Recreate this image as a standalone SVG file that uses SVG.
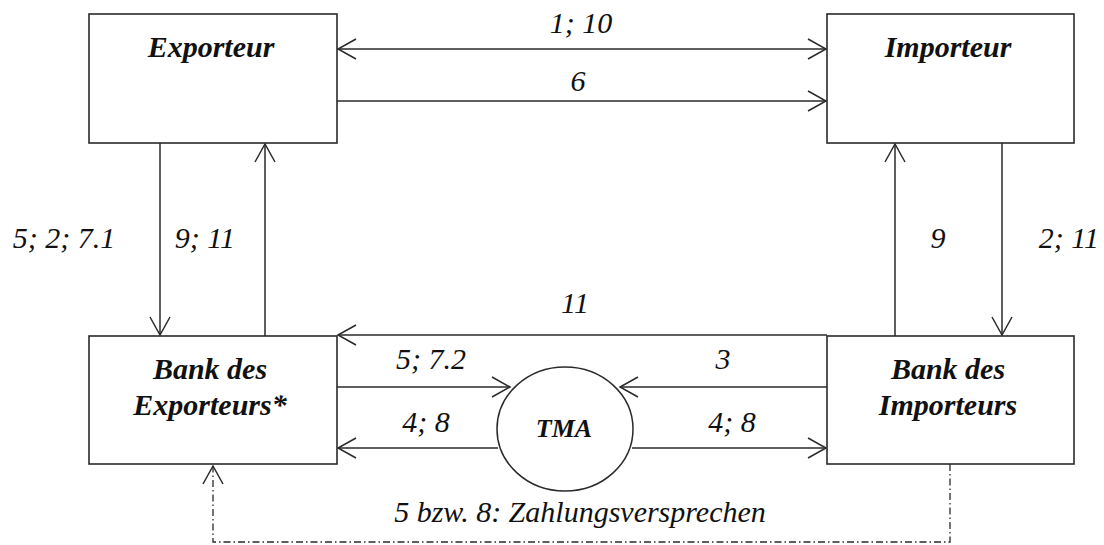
<svg xmlns="http://www.w3.org/2000/svg" width="1104" height="545" viewBox="0 0 1104 545">
  <style>
    .box { fill: #fff; stroke: #2a2a2a; stroke-width: 1.6; }
    .node { font-family: "Liberation Serif", "Times New Roman", serif; font-weight: bold; font-style: italic; font-size: 30px; fill: #111; text-anchor: middle; }
    .lbl { font-family: "Liberation Serif", "Times New Roman", serif; font-style: italic; font-size: 30px; fill: #111; text-anchor: middle; }
    .con { fill: none; stroke: #2a2a2a; stroke-width: 1.5; }
    .dd { stroke-dasharray: 7 3 1.5 3; stroke-width: 1.3; }
  </style>
  <defs>
    <marker id="arr" markerUnits="userSpaceOnUse" markerWidth="24" markerHeight="24" viewBox="-20 -12 22 24" refX="0" refY="0" orient="auto-start-reverse">
      <path d="M-18,-10 L0,0 L-18,10" fill="none" stroke="#2a2a2a" stroke-width="1.5"/>
    </marker>
  </defs>
  <rect width="1104" height="545" fill="#fff"/>

  <g id="connectors">
    <line class="con" x1="338" y1="49" x2="826" y2="49" marker-start="url(#arr)" marker-end="url(#arr)"/>
    <line class="con" x1="337" y1="101" x2="826" y2="101" marker-end="url(#arr)"/>
    <line class="con" x1="160" y1="143" x2="160" y2="335" marker-end="url(#arr)"/>
    <line class="con" x1="265" y1="336" x2="265" y2="144" marker-end="url(#arr)"/>
    <line class="con" x1="895" y1="336" x2="895" y2="144" marker-end="url(#arr)"/>
    <line class="con" x1="1002" y1="143" x2="1002" y2="335" marker-end="url(#arr)"/>
    <line class="con" x1="827" y1="335" x2="338" y2="335" marker-end="url(#arr)"/>
    <line class="con" x1="337" y1="387" x2="510" y2="387" marker-end="url(#arr)"/>
    <line class="con" x1="827" y1="387" x2="620" y2="387" marker-end="url(#arr)"/>
    <line class="con" x1="498" y1="448" x2="338" y2="448" marker-end="url(#arr)"/>
    <line class="con" x1="632" y1="448" x2="826" y2="448" marker-end="url(#arr)"/>
    <polyline class="con dd" points="950,464 950,542 213,542 213,466" marker-end="url(#arr)"/>
  </g>

  <g id="exporteur">
    <rect class="box" x="89" y="14" width="248" height="129"/>
    <text class="node" x="211" y="57">Exporteur</text>
  </g>
  <g id="importeur">
    <rect class="box" x="827" y="14" width="247" height="129"/>
    <text class="node" x="948" y="57">Importeur</text>
  </g>
  <g id="bank-exporteurs">
    <rect class="box" x="89" y="336" width="248" height="128"/>
    <text class="node" x="210" y="379">Bank des</text>
    <text class="node" x="210" y="415">Exporteurs*</text>
  </g>
  <g id="bank-importeurs">
    <rect class="box" x="827" y="336" width="247" height="128"/>
    <text class="node" x="948" y="379">Bank des</text>
    <text class="node" x="948" y="415">Importeurs</text>
  </g>
  <g id="tma">
    <ellipse cx="565" cy="429" rx="68" ry="62" fill="#fff" stroke="#2a2a2a" stroke-width="1.5"/>
    <text class="node" x="564" y="437" style="font-size:26px">TMA</text>
  </g>

  <g id="labels">
    <text class="lbl" x="581" y="33">1; 10</text>
    <text class="lbl" x="578" y="91">6</text>
    <text class="lbl" x="64" y="248">5; 2; 7.1</text>
    <text class="lbl" x="205" y="248">9; 11</text>
    <text class="lbl" x="938" y="248">9</text>
    <text class="lbl" x="1069" y="248">2; 11</text>
    <text class="lbl" x="575" y="313">11</text>
    <text class="lbl" x="431" y="369">5; 7.2</text>
    <text class="lbl" x="723" y="369">3</text>
    <text class="lbl" x="426" y="432">4; 8</text>
    <text class="lbl" x="732" y="432">4; 8</text>
    <text class="lbl" x="580" y="522">5 bzw. 8: Zahlungsversprechen</text>
  </g>
</svg>
